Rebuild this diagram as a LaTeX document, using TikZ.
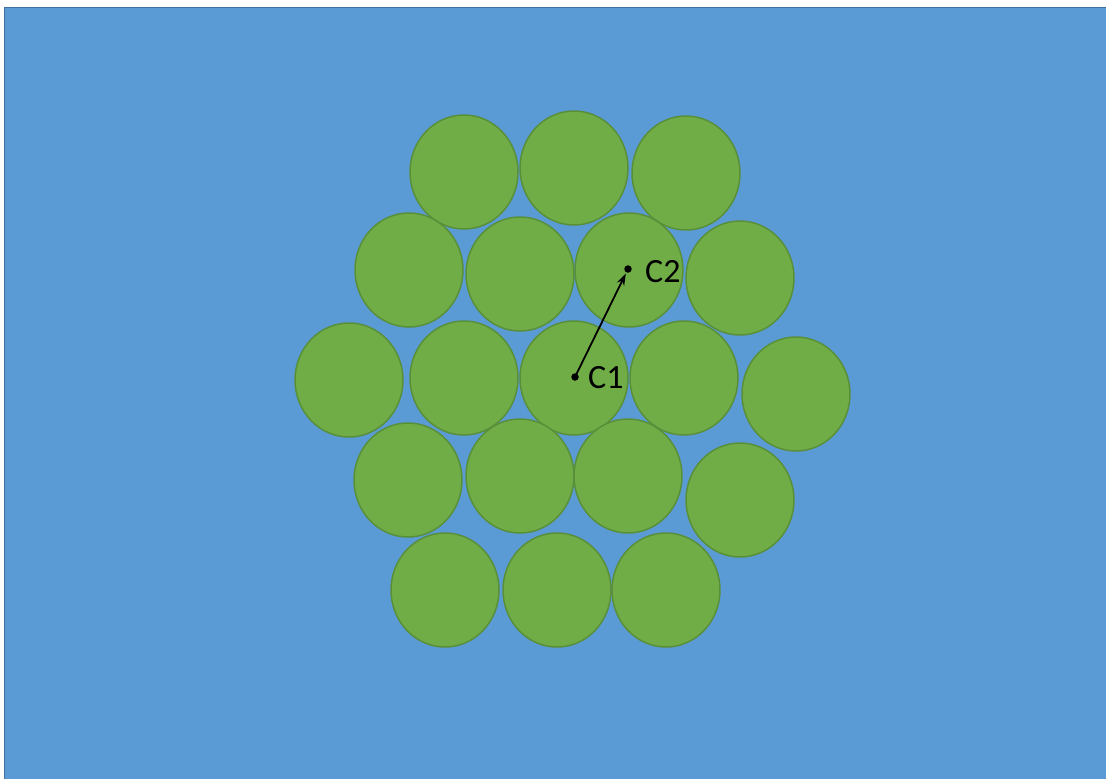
\documentclass[tikz,border=0pt]{standalone}
\usepackage{fontspec}
\setmainfont{Carlito}
\usetikzlibrary{shapes.geometric,arrows.meta}
\definecolor{bgblue}{HTML}{5B9BD5}
\definecolor{bgline}{HTML}{41719C}
\definecolor{ballgreen}{HTML}{70AD47}
\definecolor{balledge}{HTML}{5A8F3A}
\tikzset{
  ball/.style={ellipse, draw=balledge, line width=1.5pt, fill=ballgreen, minimum width=108pt, minimum height=114pt, inner sep=0pt},
  ctr/.style={circle, fill=black, minimum size=7.5pt, inner sep=0pt},
  lbl/.style={font=\fontsize{34}{40}\selectfont, text=black, anchor=west, inner sep=0pt}
}
\begin{document}
\begin{tikzpicture}[x=1pt,y=-1pt]
\useasboundingbox (0,0) rectangle (1106,779);
\fill[white] (0,0) rectangle (1106,779);
\draw[bgline, line width=1.5pt, fill=bgblue] (4.5,7.5) rectangle (1110,785);
% row 1
\node[ball] (b11) at (464,172) {};
\node[ball] (b12) at (574,168) {};
\node[ball] (b13) at (686,173) {};
% row 2
\node[ball] (b21) at (409,270) {};
\node[ball] (b22) at (520,274) {};
\node[ball] (b23) at (629,270) {};
\node[ball] (b24) at (740,278) {};
% row 3
\node[ball] (b31) at (349,380) {};
\node[ball] (b32) at (464,378) {};
\node[ball] (b33) at (574,378) {};
\node[ball] (b34) at (684,378) {};
\node[ball] (b35) at (796,394) {};
% row 4
\node[ball] (b41) at (408,480) {};
\node[ball] (b42) at (520,476) {};
\node[ball] (b43) at (628,476) {};
\node[ball] (b44) at (740,500) {};
% row 5
\node[ball] (b51) at (445,590) {};
\node[ball] (b52) at (557,590) {};
\node[ball] (b53) at (666,590) {};
% centres
\node[ctr] (c1) at (575,377) {};
\node[ctr] (c2) at (628,269) {};
\draw[line width=1.8pt, -{Stealth[length=12pt,width=8pt]}, shorten >=1pt] (c1.center) -- (c2);
\node[lbl] (l1) at (588,378) {C1};
\node[lbl] (l2) at (645,272) {C2};
\end{tikzpicture}
\end{document}
